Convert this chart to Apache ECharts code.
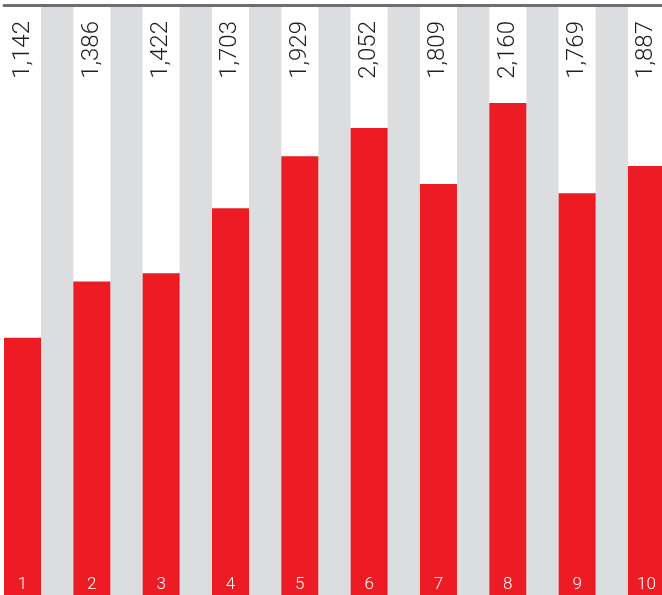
<!DOCTYPE html>
<html>
<head>
<meta charset="utf-8">
<script src="https://cdn.jsdelivr.net/npm/echarts@6/dist/echarts.min.js"></script>
<style>
  html, body { margin: 0; padding: 0; background: #ffffff; }
  #chart { width: 662px; height: 595px; }
</style>
</head>
<body>
<div id="chart"></div>
<script>
// ---- data ----
const categories = ['1', '2', '3', '4', '5', '6', '7', '8', '9', '10'];
const values = [1142, 1386, 1422, 1703, 1929, 2052, 1809, 2160, 1769, 1887];
const valueLabels = ['1,142', '1,386', '1,422', '1,703', '1,929', '2,052', '1,809', '2,160', '1,769', '1,887'];
const stripeValues = [0, 0, 0, 0, 0, 0, 0, 0, 0, 0];
const yMax = 2585;

// ---- layout constants ----
const RED = '#ed1c24';
const GRAY = '#dcddde';
const period = 69.33;
const redW = 37;
const grayW = period - redW;
const leftA = 4;
const widthA = period * 10;
const leftB = leftA + redW / 2 - period / 2;
const FONT = 'Roboto, "Liberation Sans", Helvetica, Arial, sans-serif';

const chart = echarts.init(document.getElementById('chart'), null, { renderer: 'canvas' });
chart.setOption({
  animation: false,
  backgroundColor: '#ffffff',
  grid: [
    { left: leftA, width: widthA, top: 5, bottom: -6, containLabel: false, outerBoundsMode: 'none' },
    { left: leftB, width: widthA, top: 5, bottom: -6, containLabel: false, outerBoundsMode: 'none' }
  ],
  xAxis: [
    {
      type: 'category', gridIndex: 0, data: categories, position: 'top', z: 10,
      axisLine: { show: true, onZero: false, lineStyle: { color: '#6d6e71', width: 3 } },
      axisTick: { show: false }, axisLabel: { show: false }, splitLine: { show: false }
    },
    {
      type: 'category', gridIndex: 1, data: valueLabels, position: 'top', z: 10,
      axisLine: { show: false, onZero: false }, axisTick: { show: false }, splitLine: { show: false },
      axisLabel: {
        show: true, inside: true, rotate: -90, interval: 0, margin: 16,
        color: '#231f20', fontSize: 24, fontWeight: 300, fontFamily: FONT
      }
    }
  ],
  yAxis: [
    { type: 'value', gridIndex: 0, min: 0, max: yMax, show: false },
    { type: 'value', gridIndex: 1, min: 0, max: yMax, show: false }
  ],
  series: [
    {
      type: 'bar', xAxisIndex: 0, yAxisIndex: 0, data: values,
      barWidth: redW, barGap: '0%', barCategoryGap: '0%',
      itemStyle: { color: RED },
      label: {
        show: true, position: 'insideBottom', distance: 8, formatter: '{b}',
        color: '#ffffff', fontSize: 17, fontWeight: 300, fontFamily: FONT
      }
    },
    {
      type: 'bar', xAxisIndex: 0, yAxisIndex: 0, data: stripeValues,
      barWidth: grayW, barGap: '0%', barCategoryGap: '0%',
      itemStyle: { color: GRAY },
      showBackground: true,
      backgroundStyle: { color: GRAY }
    }
  ]
});
</script>
</body>
</html>
